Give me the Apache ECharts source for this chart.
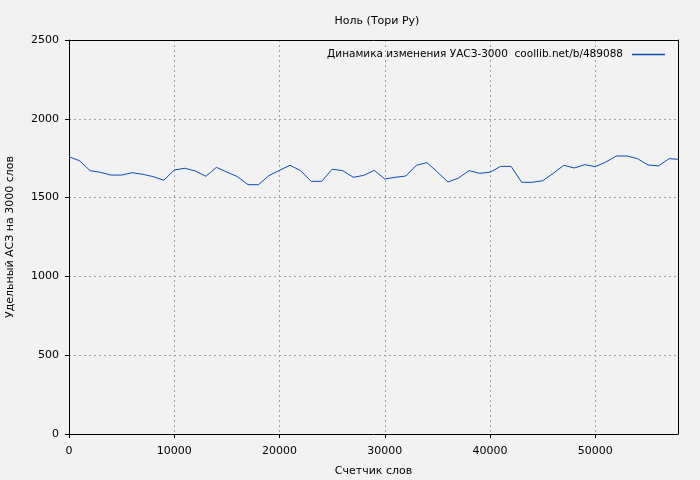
<!DOCTYPE html>
<html>
<head>
<meta charset="utf-8">
<script src="https://cdn.jsdelivr.net/npm/echarts@6/dist/echarts.min.js"></script>
<style>
html,body{margin:0;padding:0;background:#f2f2f2;}
#c{width:700px;height:480px;}
</style>
</head>
<body>
<div id="c"></div>
<script>
const titleText = 'Ноль (Тори Ру)';
const seriesName = 'Динамика изменения УАСЗ-3000  coollib.net/b/489088';
const xName = 'Счетчик слов';
const yName = 'Удельный АСЗ на 3000 слов';
const wordCounts = [0,1000,2000,3000,4000,5000,6000,7000,8000,9000,
  10000,11000,12000,13000,14000,15000,16000,17000,18000,19000,
  20000,21000,22000,23000,24000,25000,26000,27000,28000,29000,
  30000,31000,32000,33000,34000,35000,36000,37000,38000,39000,
  40000,41000,42000,43000,44000,45000,46000,47000,48000,49000,
  50000,51000,52000,53000,54000,55000,56000,57000,57850];
const values = [1759,1734,1671,1660,1643,1643,1658,1648,1633,1610,
  1675,1686,1669,1635,1692,1662,1633,1582,1582,1640,
  1673,1705,1671,1603,1603,1680,1671,1629,1641,1673,
  1618,1629,1637,1705,1722,1662,1599,1624,1671,1654,
  1661,1698,1698,1597,1597,1607,1654,1705,1688,1709,
  1696,1726,1764,1764,1747,1707,1701,1747,1743];
const yTicks = {min:0, max:2500, interval:500};
const xTicks = {min:0, max:57850, interval:10000};

const font = 'DejaVu Sans';
const txt = {fontFamily: font, fontSize: 11, color: '#000'};
const split = {show:true, lineStyle:{color:'#a0a0a0', type:[2,3], width:1}};
const chart = echarts.init(document.getElementById('c'), null, {renderer:'canvas'});
chart.setOption({
  backgroundColor: '#f2f2f2',
  animation: false,
  title: {text: titleText, left: 372, top: 11, textAlign: 'center',
    textStyle: {fontFamily: font, fontSize: 11, fontWeight: 'normal', color: '#000'}},
  legend: {right: 30, top: 44, align: 'right', icon: 'rect', itemWidth: 33, itemHeight: 1.5,
    itemGap: 0, textStyle: {fontFamily: font, fontSize: 10.5, color: '#000', padding:[0,4,0,0]},
    data: [seriesName]},
  grid: {left: 69, right: 22, top: 40, bottom: 46, containLabel: false, outerBoundsMode: 'none'},
  xAxis: [{type:'value', min:xTicks.min, max:xTicks.max, interval:xTicks.interval,
    name: xName, nameLocation:'middle', nameGap: 32, nameTextStyle: txt,
    axisLine:{show:true, lineStyle:{color:'#000', width:1}},
    axisTick:{show:true, length:4, lineStyle:{color:'#000'}},
    axisLabel:{...txt, margin: 12, showMaxLabel:false, formatter: v => String(v)},
    splitLine: split},
    {type:'value', position:'top', min:xTicks.min, max:xTicks.max,
    axisLine:{show:true, onZero:false, lineStyle:{color:'#000', width:1}},
    axisTick:{show:false}, axisLabel:{show:false}, splitLine:{show:false}}],
  yAxis: [{type:'value', min:yTicks.min, max:yTicks.max, interval:yTicks.interval,
    name: yName, nameLocation:'middle', nameGap: 53, nameTextStyle: txt,
    axisLine:{show:true, lineStyle:{color:'#000', width:1}},
    axisTick:{show:true, length:4, lineStyle:{color:'#000'}},
    axisLabel:{...txt, margin: 10, formatter: v => String(v)},
    splitLine: split},
    {type:'value', position:'right', min:yTicks.min, max:yTicks.max,
    axisLine:{show:true, onZero:false, lineStyle:{color:'#000', width:1}},
    axisTick:{show:false}, axisLabel:{show:false}, splitLine:{show:false}}],
  series: [{name: seriesName, type:'line', showSymbol:false, symbol:'none',
    color:'#0b4db5', lineStyle:{width:1, color:'#0b4db5'},
    data: wordCounts.map((x,i)=>[x, values[i]])}]
});
</script>
</body>
</html>
